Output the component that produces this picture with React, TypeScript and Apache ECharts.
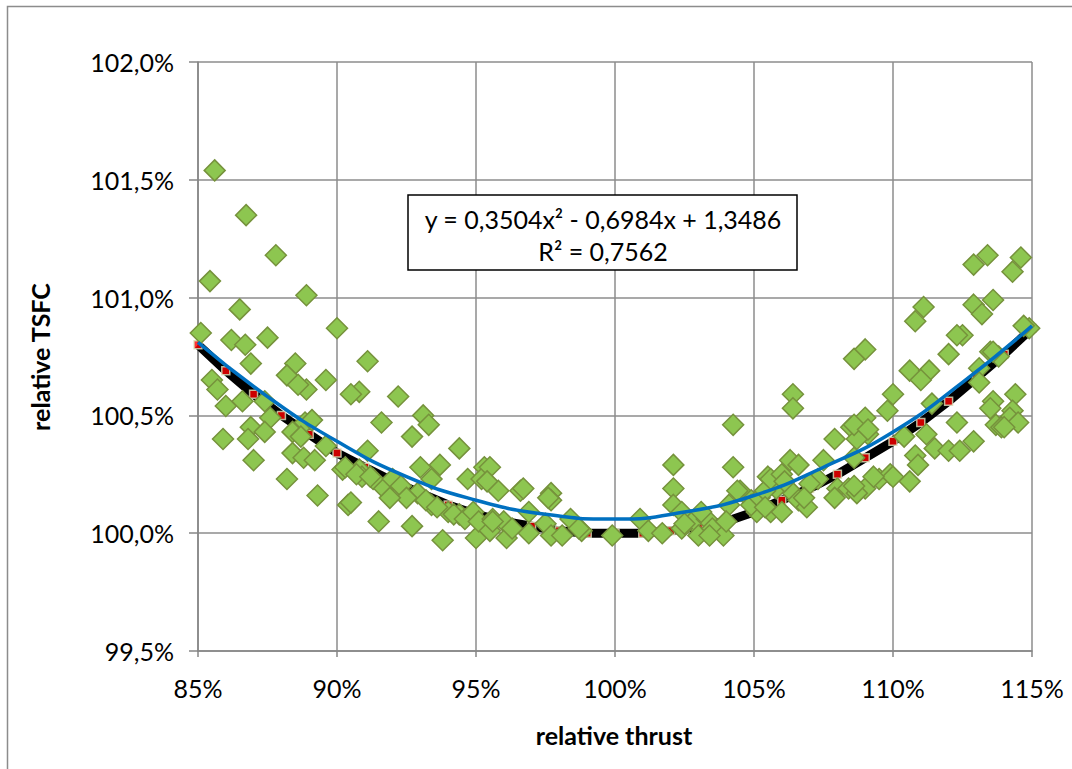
import React, { useEffect, useRef } from "react";
import * as echarts from "echarts";

// measured scatter points [relative thrust %, relative TSFC %]
const measuredPoints: number[][] = [
  [85.6,101.54],[86.73,101.35],[87.8,101.18],[85.43,101.07],[88.9,101.01],[86.5,100.95],[90.0,100.87],[85.1,100.85],
  [86.2,100.82],[86.7,100.80],[87.5,100.83],[91.1,100.73],[86.9,100.72],[88.5,100.72],[88.2,100.67],[89.6,100.65],
  [85.5,100.65],[85.7,100.61],[88.9,100.61],[90.8,100.60],[90.5,100.59],[92.2,100.58],[88.6,100.63],[86.0,100.54],
  [86.6,100.56],[87.4,100.56],
  [93.1,100.50],[93.3,100.46],[91.6,100.47],[92.7,100.41],[94.4,100.36],[86.9,100.45],[86.8,100.40],[85.9,100.40],
  [87.6,100.49],[87.4,100.43],[88.85,100.47],[89.1,100.48],[88.4,100.43],[88.7,100.41],[87.0,100.31],[88.2,100.23],
  [89.3,100.16],[88.4,100.34],[88.8,100.32],[89.2,100.31],[89.6,100.37],[90.2,100.27],[90.8,100.27],[91.1,100.35],
  [90.9,100.24],[91.3,100.23],[91.7,100.19],[92.0,100.23],[90.4,100.12],[91.5,100.05],[92.7,100.03],[93.0,100.28],
  [93.7,100.29],[93.4,100.23],[94.7,100.23],[93.8,99.97],[95.0,99.98],[95.3,100.28],[93.4,100.12],[94.0,100.09],
  [94.4,100.08],[92.9,100.17],[90.3,100.28],[90.7,100.25],[91.2,100.24],[95.2,100.23],[95.8,100.18],[90.5,100.13],
  [93.2,100.14],[93.6,100.11],[94.2,100.08],[94.6,100.06],[94.9,100.09],[95.1,100.05],[95.6,100.06],[96.0,100.05],
  [95.5,100.01],[96.1,99.98],[92.3,100.20],[92.5,100.15],[91.9,100.15],
  [95.5,100.28],[95.4,100.22],[96.6,100.18],[97.7,100.17],[97.7,100.14],[96.9,100.09],[95.6,100.05],[96.3,100.02],
  [96.9,100.0],[97.5,100.04],[97.7,99.99],[98.1,99.99],[98.4,100.06],[98.8,100.01],[99.9,99.99],[100.9,100.06],
  [101.2,100.01],[101.7,100.0],[102.1,100.29],[102.1,100.19],[102.1,100.12],[102.4,100.09],[102.8,100.05],
  [102.4,100.02],[103.0,99.99],[103.3,100.06],[103.5,100.02],[103.9,99.99],[104.25,100.46],[104.25,100.28],
  [104.5,100.18],[104.1,100.12],[104.9,100.14],[105.5,100.24],[105.8,100.19],[105.1,100.09],[105.6,100.09],
  [96.7,100.19],[97.6,100.15],[98.7,100.02],
  [106.4,100.59],[106.4,100.53],[102.5,100.04],[103.4,99.99],[103.1,100.09],[104.0,100.05],[104.4,100.18],
  [104.9,100.12],[105.2,100.15],[105.4,100.18],[105.6,100.23],[106.0,100.25],[105.4,100.11],[106.0,100.09],
  [106.3,100.31],[106.6,100.29],[106.4,100.17],[106.6,100.14],[106.9,100.11],[107.3,100.23],[107.5,100.31],
  [107.9,100.40],[108.0,100.19],[107.9,100.15],[108.5,100.45],[109.0,100.49],[109.1,100.42],[108.7,100.40],
  [108.6,100.32],[108.4,100.19],[109.0,100.19],[108.7,100.17],[109.5,100.23],[109.9,100.25],[109.8,100.52],
  [110.0,100.59],
  [111.1,100.96],[110.8,100.90],[112.9,100.97],[113.2,100.93],[113.6,100.99],[109.0,100.78],[108.6,100.74],
  [112.5,100.84],[112.0,100.76],[113.5,100.77],[113.8,100.75],[110.6,100.69],[111.3,100.69],[111.0,100.65],
  [113.1,100.70],[113.1,100.64],[114.4,100.59],[111.4,100.55],[113.6,100.56],[113.5,100.53],[114.3,100.52],
  [114.2,100.49],[113.7,100.46],[113.9,100.45],[112.3,100.47],[108.6,100.46],[109.1,100.44],[110.4,100.41],
  [111.2,100.42],[111.5,100.36],[112.0,100.35],[112.4,100.35],[112.9,100.39],[110.8,100.33],[110.9,100.29],
  [110.6,100.22],[110.0,100.24],[109.3,100.24],[107.0,100.21],[108.6,100.20],[106.1,100.22],[106.8,100.15],
  [114.9,100.87],[113.4,101.18],[112.9,101.14],[114.6,101.17],[114.3,101.11],[112.3,100.84],[114.7,100.88],
  [113.6,100.77],[114.5,100.47],[114.0,100.45]
];

// reference curve (black line with red markers)
const refThrust: number[] = [85,86,87,88,89,90,91,92,93,94,95,96,97,98,99,100,101,102,103,104,105,106,107,108,109,110,111,112,113,114,115];
const refTsfc: number[] = [100.80,100.69,100.59,100.50,100.42,100.34,100.28,100.22,100.17,100.12,100.08,100.05,100.03,100.01,100.0,100.0,100.0,100.01,100.03,100.05,100.09,100.14,100.19,100.25,100.32,100.39,100.47,100.56,100.66,100.76,100.87];

// polynomial trendline (blue)
const trendThrust: number[] = [85,87.5,90,92.5,95,97.5,100,102.5,105,107.5,110,112.5,115];
const trendTsfc: number[] = [100.81,100.58,100.39,100.24,100.14,100.08,100.06,100.09,100.16,100.28,100.43,100.64,100.88];

const yTicks = [99.5, 100, 100.5, 101, 101.5, 102];

const FONT = "Lato, 'Open Sans', sans-serif";

export default function App() {
  const ref = useRef<HTMLDivElement>(null);
  useEffect(() => {
    document.body.style.margin = "0";
    const chart = echarts.init(ref.current!, null, { renderer: "svg" });
    const refData = refThrust.map((x, i) => [x, refTsfc[i]]);
    const trendData = trendThrust.map((x, i) => [x, trendTsfc[i]]);
    chart.setOption({
      animation: false,
      backgroundColor: "#ffffff",
      textStyle: { fontFamily: FONT },
      grid: { left: 198, right: 40, top: 62, bottom: 118, containLabel: false },
      xAxis: {
        type: "value",
        min: 85,
        max: 115,
        interval: 5,
        axisLine: { show: true, lineStyle: { color: "#868686", width: 1.5 } },
        axisTick: { show: true, length: 6, lineStyle: { color: "#868686", width: 1.5 } },
        splitLine: { show: true, lineStyle: { color: "#8c8c8c", width: 1.5 } },
        axisLabel: { margin: 24, fontSize: 25, color: "#000", fontFamily: FONT, formatter: (v: number) => `${v}%` },
      },
      yAxis: {
        type: "value",
        min: yTicks[0],
        max: yTicks[yTicks.length - 1],
        interval: 0.5,
        axisLine: { show: true, lineStyle: { color: "#868686", width: 1.5 } },
        axisTick: { show: true, length: 9, lineStyle: { color: "#868686", width: 1.5 } },
        splitLine: { show: true, lineStyle: { color: "#8c8c8c", width: 1.5 } },
        axisLabel: {
          margin: 24,
          fontSize: 25,
          color: "#000",
          fontFamily: FONT,
          formatter: (v: number) => `${v.toFixed(1).replace(".", ",")}%`,
        },
      },
      series: [
        {
          type: "line",
          data: refData,
          showSymbol: false,
          symbol: "none",
          lineStyle: { color: "#000000", width: 9 },
          z: 2,
        },
        {
          type: "scatter",
          data: refData,
          symbol: "rect",
          symbolSize: 8,
          itemStyle: { color: "#ff0000", borderColor: "#d7e4bd", borderWidth: 1.5 },
          z: 3,
        },
        {
          type: "scatter",
          data: measuredPoints,
          symbol: "diamond",
          symbolSize: [21, 21],
          itemStyle: { color: "#8DC650", borderColor: "#76923C", borderWidth: 1.5, opacity: 1 },
          z: 4,
        },
        {
          type: "line",
          data: trendData,
          smooth: true,
          showSymbol: false,
          symbol: "none",
          lineStyle: { color: "#0070C0", width: 3.5 },
          z: 5,
        },
      ],
      graphic: [
        {
          type: "rect",
          left: 5,
          top: 4,
          shape: { width: 1120, height: 820 },
          style: { fill: "none", stroke: "#8c8c8c", lineWidth: 1.5 },
          silent: true,
          z: -10,
        },
        {
          type: "rect",
          x: 408,
          y: 195,
          shape: { width: 389, height: 75 },
          style: { fill: "#ffffff", stroke: "#000000", lineWidth: 1.5 },
          z: 100,
        },
        {
          type: "text",
          x: 603,
          y: 219,
          style: {
            text: "y = 0,3504x² - 0,6984x + 1,3486",
            textAlign: "center",
            textVerticalAlign: "middle",
            font: `25px ${FONT}`,
            fill: "#000",
          },
          z: 101,
        },
        {
          type: "text",
          x: 603,
          y: 251,
          style: {
            text: "R² = 0,7562",
            textAlign: "center",
            textVerticalAlign: "middle",
            font: `25px ${FONT}`,
            fill: "#000",
          },
          z: 101,
        },
        {
          type: "text",
          x: 614,
          y: 735,
          style: {
            text: "relative thrust",
            textAlign: "center",
            textVerticalAlign: "middle",
            font: `bold 25px ${FONT}`,
            fill: "#000",
          },
        },
        {
          type: "text",
          x: 40,
          y: 357,
          rotation: Math.PI / 2,
          style: {
            text: "relative TSFC",
            textAlign: "center",
            textVerticalAlign: "middle",
            font: `bold 25px ${FONT}`,
            fill: "#000",
          },
        },
      ],
    });
    return () => chart.dispose();
  }, []);
  return <div ref={ref} style={{ position: "fixed", left: 0, top: 0, width: 1072, height: 769 }} />;
}
